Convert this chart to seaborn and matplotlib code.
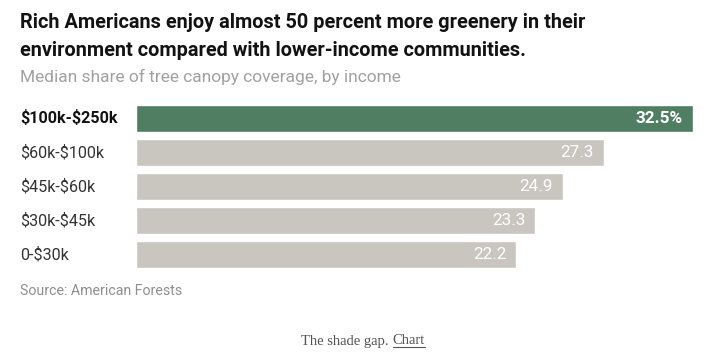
import matplotlib
matplotlib.use("Agg")
import matplotlib.pyplot as plt
import seaborn as sns
import pandas as pd

# data
income = ["$100k-$250k", "$60k-$100k", "$45k-$60k", "$30k-$45k", "0-$30k"]
canopy = [32.5, 27.3, 24.9, 23.3, 22.2]
value_labels = ["32.5%", "27.3", "24.9", "23.3", "22.2"]

df = pd.DataFrame({"income": income, "canopy": canopy})

sns.set_theme(style="white")
plt.rcParams["font.family"] = ["Roboto", "DejaVu Sans"]
plt.rcParams["text.parse_math"] = False

green = "#4f7e63"
grey = "#c8c6bf"
colors = [green] + [grey] * (len(income) - 1)

fig = plt.figure(figsize=(7.26, 3.61), dpi=100)
ax = fig.add_axes([136 / 726, 0.248, (693 - 136) / 726, 0.471])

sns.barplot(data=df, x="canopy", y="income", hue="income", palette=colors,
            legend=False, width=0.8, saturation=1, ax=ax)

ax.set_xlim(0, max(canopy))
ax.set_ylim(len(income) - 0.5, -0.5)
ax.set_xlabel("")
ax.set_ylabel("")
ax.set_xticks([])
ax.set_yticks([])
sns.despine(ax=ax, left=True, bottom=True)

# value labels inside bars
for i, (v, lab) in enumerate(zip(canopy, value_labels)):
    ax.text(v - 0.58, i, lab, ha="right", va="center", color="white",
            fontsize=12.3, fontweight="bold" if i == 0 else "normal")

# category labels on the left
for i, lab in enumerate(income):
    ax.text(-116 / 557 * max(canopy), i, lab, ha="left", va="center",
            color="#121212" if i == 0 else "#333333", fontsize=11.6,
            fontweight="bold" if i == 0 else "normal")

fig.text(20 / 726, 1 - 22 / 361, "Rich Americans enjoy almost 50 percent more greenery in their",
         fontsize=14.3, fontweight="bold", color="#121212", va="center")
fig.text(20 / 726, 1 - 50 / 361, "environment compared with lower-income communities.",
         fontsize=14.3, fontweight="bold", color="#121212", va="center")
fig.text(20 / 726, 1 - 77 / 361, "Median share of tree canopy coverage, by income",
         fontsize=12.5, color="#a1a1a1", va="center")
fig.text(20 / 726, 1 - 291 / 361, "Source: American Forests",
         fontsize=10.2, color="#8f8f8f", va="center")

# caption
serif = ["Liberation Serif", "DejaVu Serif"]
cap1 = fig.text(0.5, 1 - 341 / 361, "The shade gap. ", family=serif,
                fontsize=10.5, color="#555555", ha="right", va="center")
cap2 = fig.text(0.5, 1 - 341 / 361, "Chart", family=serif,
                fontsize=10.5, color="#555555", ha="left", va="center")
fig.canvas.draw()
r = fig.canvas.get_renderer()
b1 = cap1.get_window_extent(r)
b2 = cap2.get_window_extent(r)
shift = (b1.width + b2.width) / 2 - b1.width
cap1.set_x(0.5 - shift / fig.bbox.width)
cap2.set_x(0.5 - shift / fig.bbox.width)
fig.canvas.draw()
b2 = cap2.get_window_extent(r)
fig.add_artist(plt.Line2D([b2.x0 / fig.bbox.width, b2.x1 / fig.bbox.width],
                          [(b2.y0 + 1) / fig.bbox.height] * 2,
                          transform=fig.transFigure, color="#555555", lw=0.8))

fig.savefig("out.png", dpi=100, facecolor="white")
